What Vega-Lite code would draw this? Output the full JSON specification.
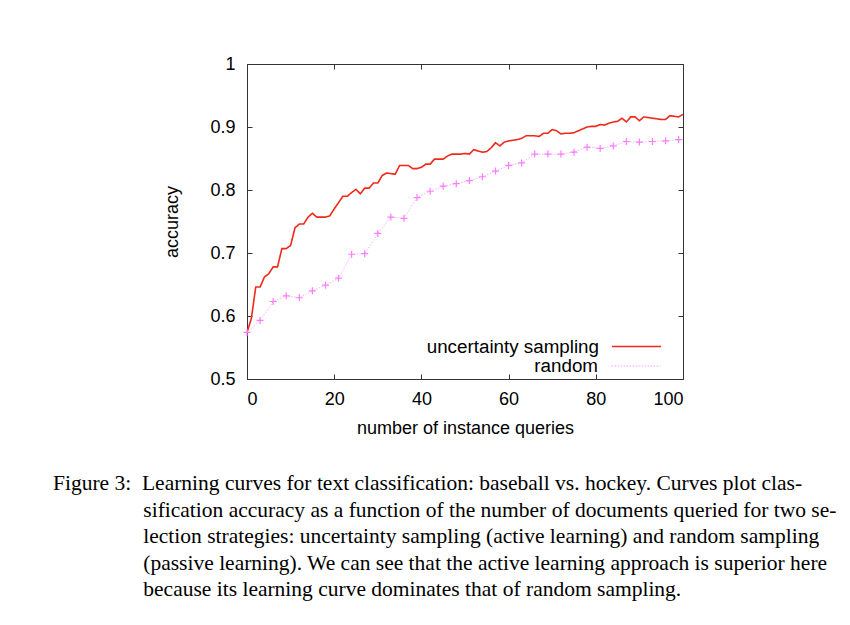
{
  "$schema": "https://vega.github.io/schema/vega-lite/v6.json",
  "width": 436,
  "height": 315,
  "autosize": {"type": "none"},
  "padding": {"left": 247, "top": 64, "right": 167, "bottom": 246},
  "background": "white",
  "config": {
    "view": {"stroke": "#333333", "strokeWidth": 1},
    "font": "Liberation Sans",
    "axis": {"labelFont": "Liberation Sans", "titleFont": "Liberation Sans", "labelFontSize": 18, "titleFontSize": 18, "titleFontWeight": "normal", "labelColor": "black", "titleColor": "black", "grid": false, "domain": false, "tickColor": "#333333", "tickSize": -5}
  },
  "title": {
    "text": [
      "Figure 3:\u00a0\u00a0Learning curves for text classification: baseball vs. hockey. Curves plot clas-",
      "\u200b\u00a0\u00a0\u00a0\u00a0\u00a0\u00a0\u00a0\u00a0\u00a0\u00a0\u00a0\u00a0\u00a0\u00a0\u00a0\u00a0\u2009sification accuracy as a function of the number of documents queried for two se-",
      "\u200b\u00a0\u00a0\u00a0\u00a0\u00a0\u00a0\u00a0\u00a0\u00a0\u00a0\u00a0\u00a0\u00a0\u00a0\u00a0\u00a0\u2009lection strategies: uncertainty sampling (active learning) and random sampling",
      "\u200b\u00a0\u00a0\u00a0\u00a0\u00a0\u00a0\u00a0\u00a0\u00a0\u00a0\u00a0\u00a0\u00a0\u00a0\u00a0\u00a0\u2009(passive learning). We can see that the active learning approach is superior here",
      "\u200b\u00a0\u00a0\u00a0\u00a0\u00a0\u00a0\u00a0\u00a0\u00a0\u00a0\u00a0\u00a0\u00a0\u00a0\u00a0\u00a0\u2009because its learning curve dominates that of random sampling."
    ],
    "orient": "bottom",
    "anchor": "start",
    "frame": "group",
    "dx": -194,
    "offset": 36,
    "font": "Liberation Serif",
    "fontSize": 21.5,
    "fontWeight": "normal",
    "lineHeight": 26.5,
    "color": "black"
  },
  "data": {"values": [
    {"series": "uncertainty sampling", "x": 0, "acc": 0.574},
    {"series": "uncertainty sampling", "x": 1, "acc": 0.596},
    {"series": "uncertainty sampling", "x": 2, "acc": 0.646},
    {"series": "uncertainty sampling", "x": 3, "acc": 0.646},
    {"series": "uncertainty sampling", "x": 4, "acc": 0.662},
    {"series": "uncertainty sampling", "x": 5, "acc": 0.667},
    {"series": "uncertainty sampling", "x": 6, "acc": 0.678},
    {"series": "uncertainty sampling", "x": 7, "acc": 0.678},
    {"series": "uncertainty sampling", "x": 8, "acc": 0.707},
    {"series": "uncertainty sampling", "x": 9, "acc": 0.707},
    {"series": "uncertainty sampling", "x": 10, "acc": 0.712},
    {"series": "uncertainty sampling", "x": 11, "acc": 0.740},
    {"series": "uncertainty sampling", "x": 12, "acc": 0.746},
    {"series": "uncertainty sampling", "x": 13, "acc": 0.746},
    {"series": "uncertainty sampling", "x": 14, "acc": 0.757},
    {"series": "uncertainty sampling", "x": 15, "acc": 0.763},
    {"series": "uncertainty sampling", "x": 16, "acc": 0.757},
    {"series": "uncertainty sampling", "x": 17, "acc": 0.757},
    {"series": "uncertainty sampling", "x": 18, "acc": 0.757},
    {"series": "uncertainty sampling", "x": 19, "acc": 0.759},
    {"series": "uncertainty sampling", "x": 20, "acc": 0.770},
    {"series": "uncertainty sampling", "x": 21, "acc": 0.780},
    {"series": "uncertainty sampling", "x": 22, "acc": 0.790},
    {"series": "uncertainty sampling", "x": 23, "acc": 0.790},
    {"series": "uncertainty sampling", "x": 24, "acc": 0.796},
    {"series": "uncertainty sampling", "x": 25, "acc": 0.801},
    {"series": "uncertainty sampling", "x": 26, "acc": 0.794},
    {"series": "uncertainty sampling", "x": 27, "acc": 0.803},
    {"series": "uncertainty sampling", "x": 28, "acc": 0.803},
    {"series": "uncertainty sampling", "x": 29, "acc": 0.811},
    {"series": "uncertainty sampling", "x": 30, "acc": 0.811},
    {"series": "uncertainty sampling", "x": 31, "acc": 0.823},
    {"series": "uncertainty sampling", "x": 32, "acc": 0.827},
    {"series": "uncertainty sampling", "x": 33, "acc": 0.826},
    {"series": "uncertainty sampling", "x": 34, "acc": 0.825},
    {"series": "uncertainty sampling", "x": 35, "acc": 0.839},
    {"series": "uncertainty sampling", "x": 36, "acc": 0.839},
    {"series": "uncertainty sampling", "x": 37, "acc": 0.839},
    {"series": "uncertainty sampling", "x": 38, "acc": 0.834},
    {"series": "uncertainty sampling", "x": 39, "acc": 0.834},
    {"series": "uncertainty sampling", "x": 40, "acc": 0.836},
    {"series": "uncertainty sampling", "x": 41, "acc": 0.841},
    {"series": "uncertainty sampling", "x": 42, "acc": 0.841},
    {"series": "uncertainty sampling", "x": 43, "acc": 0.849},
    {"series": "uncertainty sampling", "x": 44, "acc": 0.849},
    {"series": "uncertainty sampling", "x": 45, "acc": 0.849},
    {"series": "uncertainty sampling", "x": 46, "acc": 0.854},
    {"series": "uncertainty sampling", "x": 47, "acc": 0.857},
    {"series": "uncertainty sampling", "x": 48, "acc": 0.857},
    {"series": "uncertainty sampling", "x": 49, "acc": 0.857},
    {"series": "uncertainty sampling", "x": 50, "acc": 0.858},
    {"series": "uncertainty sampling", "x": 51, "acc": 0.857},
    {"series": "uncertainty sampling", "x": 52, "acc": 0.864},
    {"series": "uncertainty sampling", "x": 53, "acc": 0.862},
    {"series": "uncertainty sampling", "x": 54, "acc": 0.860},
    {"series": "uncertainty sampling", "x": 55, "acc": 0.861},
    {"series": "uncertainty sampling", "x": 56, "acc": 0.867},
    {"series": "uncertainty sampling", "x": 57, "acc": 0.875},
    {"series": "uncertainty sampling", "x": 58, "acc": 0.870},
    {"series": "uncertainty sampling", "x": 59, "acc": 0.876},
    {"series": "uncertainty sampling", "x": 60, "acc": 0.878},
    {"series": "uncertainty sampling", "x": 61, "acc": 0.879},
    {"series": "uncertainty sampling", "x": 62, "acc": 0.880},
    {"series": "uncertainty sampling", "x": 63, "acc": 0.882},
    {"series": "uncertainty sampling", "x": 64, "acc": 0.886},
    {"series": "uncertainty sampling", "x": 65, "acc": 0.886},
    {"series": "uncertainty sampling", "x": 66, "acc": 0.886},
    {"series": "uncertainty sampling", "x": 67, "acc": 0.885},
    {"series": "uncertainty sampling", "x": 68, "acc": 0.890},
    {"series": "uncertainty sampling", "x": 69, "acc": 0.890},
    {"series": "uncertainty sampling", "x": 70, "acc": 0.896},
    {"series": "uncertainty sampling", "x": 71, "acc": 0.894},
    {"series": "uncertainty sampling", "x": 72, "acc": 0.889},
    {"series": "uncertainty sampling", "x": 73, "acc": 0.890},
    {"series": "uncertainty sampling", "x": 74, "acc": 0.890},
    {"series": "uncertainty sampling", "x": 75, "acc": 0.891},
    {"series": "uncertainty sampling", "x": 76, "acc": 0.894},
    {"series": "uncertainty sampling", "x": 77, "acc": 0.897},
    {"series": "uncertainty sampling", "x": 78, "acc": 0.900},
    {"series": "uncertainty sampling", "x": 79, "acc": 0.901},
    {"series": "uncertainty sampling", "x": 80, "acc": 0.901},
    {"series": "uncertainty sampling", "x": 81, "acc": 0.904},
    {"series": "uncertainty sampling", "x": 82, "acc": 0.903},
    {"series": "uncertainty sampling", "x": 83, "acc": 0.906},
    {"series": "uncertainty sampling", "x": 84, "acc": 0.908},
    {"series": "uncertainty sampling", "x": 85, "acc": 0.909},
    {"series": "uncertainty sampling", "x": 86, "acc": 0.914},
    {"series": "uncertainty sampling", "x": 87, "acc": 0.908},
    {"series": "uncertainty sampling", "x": 88, "acc": 0.916},
    {"series": "uncertainty sampling", "x": 89, "acc": 0.916},
    {"series": "uncertainty sampling", "x": 90, "acc": 0.910},
    {"series": "uncertainty sampling", "x": 91, "acc": 0.916},
    {"series": "uncertainty sampling", "x": 92, "acc": 0.915},
    {"series": "uncertainty sampling", "x": 93, "acc": 0.914},
    {"series": "uncertainty sampling", "x": 94, "acc": 0.913},
    {"series": "uncertainty sampling", "x": 95, "acc": 0.912},
    {"series": "uncertainty sampling", "x": 96, "acc": 0.912},
    {"series": "uncertainty sampling", "x": 97, "acc": 0.918},
    {"series": "uncertainty sampling", "x": 98, "acc": 0.917},
    {"series": "uncertainty sampling", "x": 99, "acc": 0.916},
    {"series": "uncertainty sampling", "x": 100, "acc": 0.920},
    {"series": "random", "x": 0, "acc": 0.574},
    {"series": "random", "x": 3, "acc": 0.593},
    {"series": "random", "x": 6, "acc": 0.623},
    {"series": "random", "x": 9, "acc": 0.632},
    {"series": "random", "x": 12, "acc": 0.629},
    {"series": "random", "x": 15, "acc": 0.640},
    {"series": "random", "x": 18, "acc": 0.649},
    {"series": "random", "x": 21, "acc": 0.660},
    {"series": "random", "x": 24, "acc": 0.698},
    {"series": "random", "x": 27, "acc": 0.699},
    {"series": "random", "x": 30, "acc": 0.731},
    {"series": "random", "x": 33, "acc": 0.757},
    {"series": "random", "x": 36, "acc": 0.755},
    {"series": "random", "x": 39, "acc": 0.788},
    {"series": "random", "x": 42, "acc": 0.798},
    {"series": "random", "x": 45, "acc": 0.806},
    {"series": "random", "x": 48, "acc": 0.810},
    {"series": "random", "x": 51, "acc": 0.815},
    {"series": "random", "x": 54, "acc": 0.821},
    {"series": "random", "x": 57, "acc": 0.830},
    {"series": "random", "x": 60, "acc": 0.839},
    {"series": "random", "x": 63, "acc": 0.843},
    {"series": "random", "x": 66, "acc": 0.857},
    {"series": "random", "x": 69, "acc": 0.857},
    {"series": "random", "x": 72, "acc": 0.857},
    {"series": "random", "x": 75, "acc": 0.860},
    {"series": "random", "x": 78, "acc": 0.868},
    {"series": "random", "x": 81, "acc": 0.866},
    {"series": "random", "x": 84, "acc": 0.870},
    {"series": "random", "x": 87, "acc": 0.877},
    {"series": "random", "x": 90, "acc": 0.876},
    {"series": "random", "x": 93, "acc": 0.877},
    {"series": "random", "x": 96, "acc": 0.878},
    {"series": "random", "x": 99, "acc": 0.880}
  ]},
  "resolve": {"axis": {"x": "independent", "y": "independent"}},
  "layer": [
    {
      "mark": {"type": "line", "clip": true},
      "encoding": {
        "x": {"field": "x", "type": "quantitative", "scale": {"domain": [0, 100], "nice": false},
              "axis": {"orient": "bottom", "values": [0, 20, 40, 60, 80, 100], "title": "number of instance queries", "labelPadding": 16, "titlePadding": 11}},
        "y": {"field": "acc", "type": "quantitative", "scale": {"domain": [0.5, 1], "nice": false, "zero": false},
              "axis": {"orient": "left", "values": [0.5, 0.6, 0.7, 0.8, 0.9, 1], "format": "~g", "title": "accuracy", "labelPadding": 17, "titlePadding": 28}},
        "color": {"field": "series", "type": "nominal",
                  "scale": {"domain": ["uncertainty sampling", "random"], "range": ["#ee2a1a", "#ffb0ff"]},
                  "legend": {"title": null, "values": ["uncertainty sampling"], "orient": "none", "legendX": 364, "legendY": 257, "padding": 0,
                             "symbolType": "stroke", "symbolSize": 2401, "symbolStrokeWidth": 1.6,
                             "labelFontSize": 18.8, "labelFont": "Liberation Sans", "labelColor": "black", "labelLimit": 300,
                             "labelAlign": "right", "labelOffset": -63}},
        "strokeDash": {"field": "series", "type": "nominal",
                       "scale": {"domain": ["random", "uncertainty sampling"], "range": [[1.5, 1.5], [1, 0]]},
                       "legend": {"title": null, "values": ["random"], "orient": "none", "legendX": 364, "legendY": 277, "padding": 0,
                             "symbolType": "stroke", "symbolSize": 2401, "symbolStrokeWidth": 1, "symbolStrokeColor": "#ffa0ff",
                             "labelFontSize": 18.8, "labelFont": "Liberation Sans", "labelColor": "black", "labelLimit": 300,
                             "labelAlign": "right", "labelOffset": -63}},
        "strokeWidth": {"field": "series", "type": "nominal",
                        "scale": {"domain": ["uncertainty sampling", "random"], "range": [1.6, 1]},
                        "legend": null}
      }
    },
    {
      "transform": [{"filter": "datum.series === 'random'"}],
      "mark": {"type": "point", "shape": "M-1,0H1M0,-1V1", "filled": false, "stroke": "#ff7cff", "strokeWidth": 1.2, "size": 49, "opacity": 1},
      "encoding": {
        "x": {"field": "x", "type": "quantitative", "scale": {"domain": [0, 100], "nice": false},
              "axis": {"orient": "top", "values": [0, 20, 40, 60, 80, 100], "labels": false, "title": null}},
        "y": {"field": "acc", "type": "quantitative", "scale": {"domain": [0.5, 1], "nice": false, "zero": false},
              "axis": {"orient": "right", "values": [0.5, 0.6, 0.7, 0.8, 0.9, 1], "labels": false, "title": null}}
      }
    }
  ]
}
